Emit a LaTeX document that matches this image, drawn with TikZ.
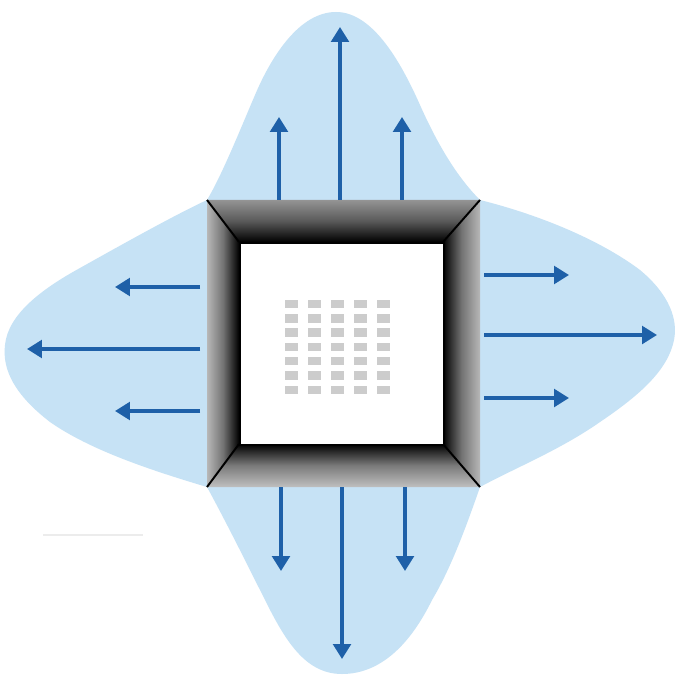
\documentclass[tikz,border=0pt]{standalone}
\usetikzlibrary{arrows.meta}
\definecolor{lobe}{RGB}{198,226,245}
\definecolor{arrowblue}{RGB}{30,96,168}
\definecolor{chip}{RGB}{204,204,204}
\definecolor{faint}{RGB}{236,236,236}
\tikzset{
  lobefill/.style={fill=lobe, draw=none},
  flow/.style={draw=arrowblue, line width=2pt, -{Triangle[width=10pt,length=8.5pt]}},
  chipcell/.style={fill=chip, draw=none},
  corneredge/.style={draw=black, line width=1.1pt},
}
\begin{document}
\begin{tikzpicture}[x=0.02cm,y=-0.02cm]
\useasboundingbox (0,0) rectangle (675,675);
\fill[white] (0,0) rectangle (675,675);
% frame corners
\coordinate (OTL) at (207,200);
\coordinate (OTR) at (480,200);
\coordinate (OBR) at (480,487);
\coordinate (OBL) at (207,487);
\coordinate (ITL) at (239,242);
\coordinate (ITR) at (443,242);
\coordinate (IBR) at (443,444);
\coordinate (IBL) at (239,444);
% four-lobed emission region
\path[lobefill] (OTL)
  .. controls (222,175) and (240,130) .. (255,95)
  .. controls (272,55) and (300,12) .. (336,12)
  .. controls (372,12) and (400,60) .. (420,105)
  .. controls (440,150) and (460,180) .. (OTR)
  .. controls (540,215) and (600,240) .. (640,270)
  .. controls (670,295) and (678,320) .. (674,340)
  .. controls (668,370) and (640,395) .. (600,422)
  .. controls (560,450) and (515,468) .. (OBR)
  .. controls (465,530) and (450,570) .. (432,600)
  .. controls (410,645) and (380,674) .. (342,674)
  .. controls (305,674) and (285,640) .. (265,600)
  .. controls (245,560) and (225,520) .. (OBL)
  .. controls (150,470) and (90,450) .. (50,422)
  .. controls (15,395) and (2,370) .. (5,345)
  .. controls (8,315) and (40,290) .. (80,268)
  .. controls (130,240) and (175,215) .. (OTL) -- cycle;
% faint line
\coordinate (fa) at (43,535);
\coordinate (fb) at (143,535);
\draw[faint, line width=1.5pt] (fa) -- (fb);
% frame bands
\shade[top color=black!42, bottom color=black, middle color=black!65] (OTL) -- (OTR) -- (ITR) -- (ITL) -- cycle;
\shade[left color=black!28, right color=black, middle color=black!55] (OTL) -- (ITL) -- (IBL) -- (OBL) -- cycle;
\shade[left color=black, right color=black!28, middle color=black!55] (OTR) -- (OBR) -- (IBR) -- (ITR) -- cycle;
\shade[top color=black, bottom color=black!25, middle color=black!52] (OBL) -- (IBL) -- (IBR) -- (OBR) -- cycle;
\draw[corneredge] (OTL) -- (ITL);
\draw[corneredge] (OTR) -- (ITR);
\draw[corneredge] (OBR) -- (IBR);
\draw[corneredge] (OBL) -- (IBL);
% inner window
\node[draw=black, line width=1pt, fill=white, minimum width=204*0.02cm, minimum height=202*0.02cm, inner sep=0pt, anchor=north west] (win) at (ITL) {};
% chip cells
\foreach \cx in {291.5,314.5,337.5,360,383}{
  \foreach \cy in {304,318.5,332.5,347,361,375.5,390}{
    \fill[chipcell] (\cx-6.5,\cy-4.2) rectangle (\cx+6.5,\cy+4.2);
  }
}
% arrows: top
\coordinate (t1s) at (279,200); \coordinate (t1e) at (279,117);
\coordinate (t2s) at (340,200); \coordinate (t2e) at (340,27);
\coordinate (t3s) at (402,200); \coordinate (t3e) at (402,117);
% left
\coordinate (l1s) at (200,287); \coordinate (l1e) at (115,287);
\coordinate (l2s) at (200,349); \coordinate (l2e) at (27,349);
\coordinate (l3s) at (200,411); \coordinate (l3e) at (115,411);
% right
\coordinate (r1s) at (484,275); \coordinate (r1e) at (569,275);
\coordinate (r2s) at (484,335); \coordinate (r2e) at (657,335);
\coordinate (r3s) at (484,398); \coordinate (r3e) at (569,398);
% bottom
\coordinate (b1s) at (281,487); \coordinate (b1e) at (281,571);
\coordinate (b2s) at (342,487); \coordinate (b2e) at (342,659);
\coordinate (b3s) at (405,487); \coordinate (b3e) at (405,571);
\foreach \a in {t1,t2,t3,l1,l2,l3,r1,r2,r3,b1,b2,b3}{
  \draw[flow] (\a s) -- (\a e);
}
\end{tikzpicture}
\end{document}
